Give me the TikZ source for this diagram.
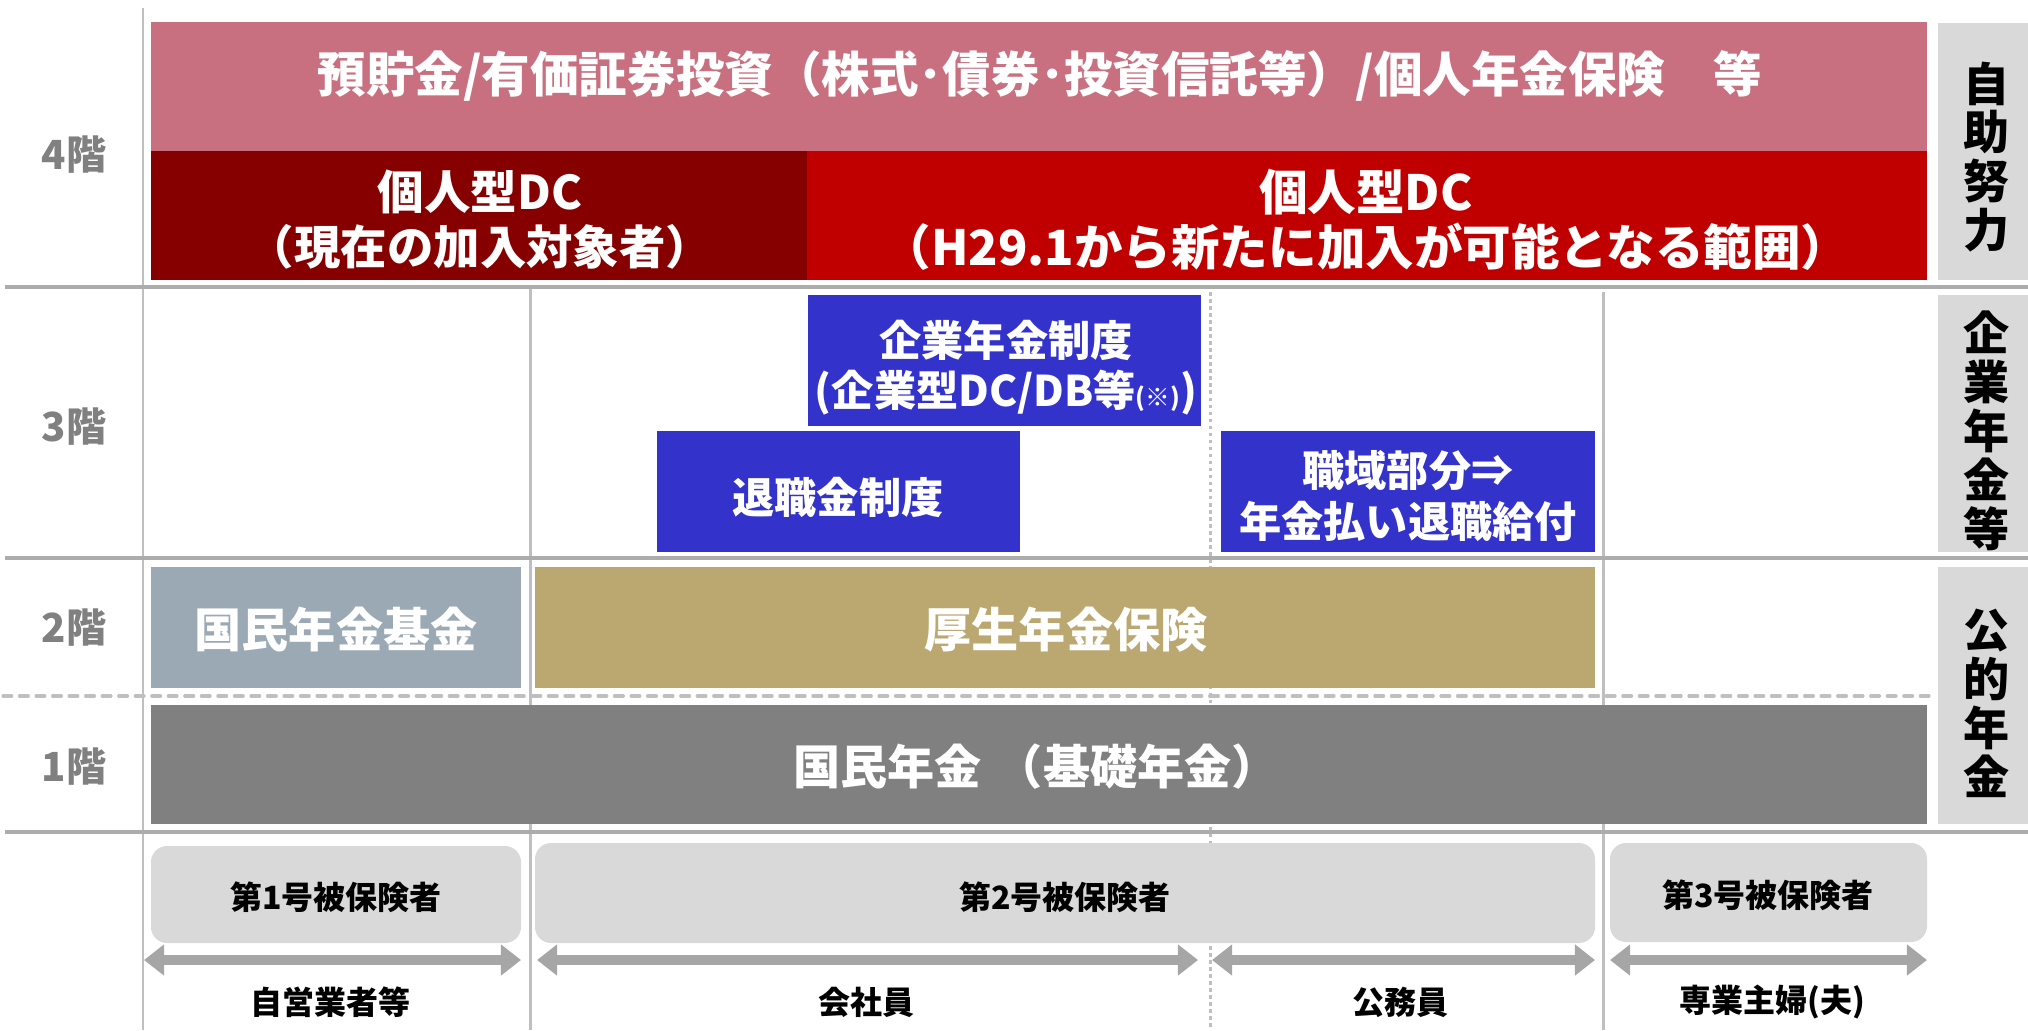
\documentclass[tikz,border=0pt]{standalone}
\usepackage{fontspec}
\setmainfont{Noto Sans CJK JP}
\usetikzlibrary{arrows.meta,fit}
\definecolor{pinkc}{RGB}{201,112,128}
\definecolor{dredc}{RGB}{134,0,0}
\definecolor{redc}{RGB}{192,0,0}
\definecolor{bluec}{RGB}{51,51,204}
\definecolor{gbluec}{RGB}{154,169,180}
\definecolor{tanc}{RGB}{187,167,112}
\definecolor{dgreyc}{RGB}{128,128,128}
\definecolor{lgreyc}{RGB}{217,217,217}
\definecolor{hlinec}{RGB}{172,172,172}
\definecolor{vlinec}{RGB}{191,191,191}
\definecolor{arrc}{RGB}{166,166,166}
\begin{document}
\begin{tikzpicture}[x=0.01cm,y=-0.01cm,
  boxfit/.style={inner sep=0pt,outer sep=0pt,draw=none},
  wtxt/.style={text=white,align=center,inner sep=0pt,font=\fontsize{13.2}{15.6}\selectfont\bfseries},
  btxt/.style={text=white,align=center,inner sep=0pt,font=\fontsize{12}{14.3}\selectfont\bfseries},
  mtxt/.style={text=white,align=center,inner sep=0pt,font=\fontsize{13.4}{16}\selectfont\bfseries},
  floortxt/.style={text=dgreyc,inner sep=0pt,font=\fontsize{11.4}{12}\selectfont\bfseries},
  sidetxt/.style={text=black,align=center,inner sep=0pt,font=\fontsize{13.1}{13.9}\selectfont\bfseries},
  smalltxt/.style={text=black,inner sep=0pt,font=\fontsize{9.1}{10}\selectfont\bfseries},
  hline/.style={draw=hlinec,line width=1.1pt},
  vline/.style={draw=vlinec,line width=0.85pt},
  dbl/.style={draw=arrc,line width=2.85pt,{Triangle[width=8.5pt,length=5.7pt]}-{Triangle[width=8.5pt,length=5.7pt]}}
]
\useasboundingbox (0,0) rectangle (2028,1030);

% grid lines
\draw[vline] (143,8) -- (143,1030);
\draw[vline] (530,287) -- (530,1030);
\draw[vline] (1603,292) -- (1603,1030);
\draw[vline,dash pattern=on 1pt off 1pt] (1210,292) -- (1210,1030);
\draw[hline] (5,287) -- (2028,287);
\draw[hline] (5,558) -- (2028,558);
\draw[hline] (5,832) -- (2028,832);
\draw[draw=vlinec,line width=0.9pt,line cap=round,dash pattern=on 2.5pt off 2.2pt] (3,696) -- (1936,696);

% boxes
\node[boxfit,fill=pinkc,fit={(151,22) (1927,151)}] (pink) {};
\node[boxfit,fill=dredc,fit={(151,151) (807,280)}] (dred) {};
\node[boxfit,fill=redc,fit={(807,151) (1927,280)}] (red) {};
\node[boxfit,fill=lgreyc,fit={(1938,23) (2028,280)}] (side1) {};
\node[boxfit,fill=lgreyc,fit={(1938,295) (2028,552)}] (side2) {};
\node[boxfit,fill=lgreyc,fit={(1938,567) (2028,824)}] (side3) {};
\node[boxfit,fill=bluec,fit={(808,295) (1201,426)}] (kigyo) {};
\node[boxfit,fill=bluec,fit={(657,431) (1020,552)}] (taishoku) {};
\node[boxfit,fill=bluec,fit={(1221,431) (1595,552)}] (shokuiki) {};
\node[boxfit,fill=gbluec,fit={(151,567) (521,688)}] (kikin) {};
\node[boxfit,fill=tanc,fit={(535,567) (1595,688)}] (kosei) {};
\node[boxfit,fill=dgreyc,fit={(151,705) (1927,824)}] (kokumin) {};
\node[boxfit,fill=lgreyc,rounded corners=0.16cm,fit={(151,846) (521,943)}] (ins1) {};
\node[boxfit,fill=lgreyc,rounded corners=0.16cm,fit={(535,843) (1595,943)}] (ins2) {};
\node[boxfit,fill=lgreyc,rounded corners=0.16cm,fit={(1610,843) (1927,942)}] (ins3) {};

% texts
\node[wtxt,font=\fontsize{13.8}{15.6}\selectfont\bfseries] (tpink) at (1040,76) {預貯金/有価証券投資（株式･債券･投資信託等）/個人年金保険　等};
\node[wtxt] (tdred) at (480,220) {個人型DC\\（現在の加入対象者）};
\node[wtxt,font=\fontsize{13.8}{15.6}\selectfont\bfseries] (tred) at (1366,220) {個人型DC\\（H29.1から新たに加入が可能となる範囲）};
\node[btxt] (tkigyo) at (1006,368) {企業年金制度\\(企業型DC/DB等{\fontsize{7}{7}\selectfont(※)})};
\node[btxt] (ttaishoku) at (838,497) {退職金制度};
\node[btxt] (tshokuiki) at (1408,496) {職域部分⇒\\年金払い退職給付};
\node[mtxt] (tkikin) at (336,630) {国民年金基金};
\node[mtxt] (tkosei) at (1066,630) {厚生年金保険};
\node[mtxt] (tkokumin) at (1036,767) {国民年金\hspace{0.3em}（基礎年金）};

\node[floortxt] (f4) at (74,155) {4階};
\node[floortxt] (f3) at (74,427) {3階};
\node[floortxt] (f2) at (74,628) {2階};
\node[floortxt] (f1) at (74,767) {1階};

\node[sidetxt] (s1) at (1986,157) {自\\助\\努\\力};
\node[sidetxt] (s2) at (1986,431) {企\\業\\年\\金\\等};
\node[sidetxt] (s3) at (1986,703) {公\\的\\年\\金};

\node[smalltxt] (ti1) at (336,897) {第1号被保険者};
\node[smalltxt] (ti2) at (1065,897) {第2号被保険者};
\node[smalltxt] (ti3) at (1768,895) {第3号被保険者};

% arrows
\coordinate (a1l) at (144,960); \coordinate (a1r) at (521,960);
\coordinate (a2l) at (537,960); \coordinate (a2r) at (1198,960);
\coordinate (a3l) at (1212,960); \coordinate (a3r) at (1595,960);
\coordinate (a4l) at (1610,960); \coordinate (a4r) at (1927,960);
\draw[dbl] (a1l) -- (a1r);
\draw[dbl] (a2l) -- (a2r);
\draw[dbl] (a3l) -- (a3r);
\draw[dbl] (a4l) -- (a4r);

\node[smalltxt] (b1) at (330,1002) {自営業者等};
\node[smalltxt] (b2) at (866,1002) {会社員};
\node[smalltxt] (b3) at (1400,1002) {公務員};
\node[smalltxt] (b4) at (1772,1002) {専業主婦(夫)};
\end{tikzpicture}
\end{document}
